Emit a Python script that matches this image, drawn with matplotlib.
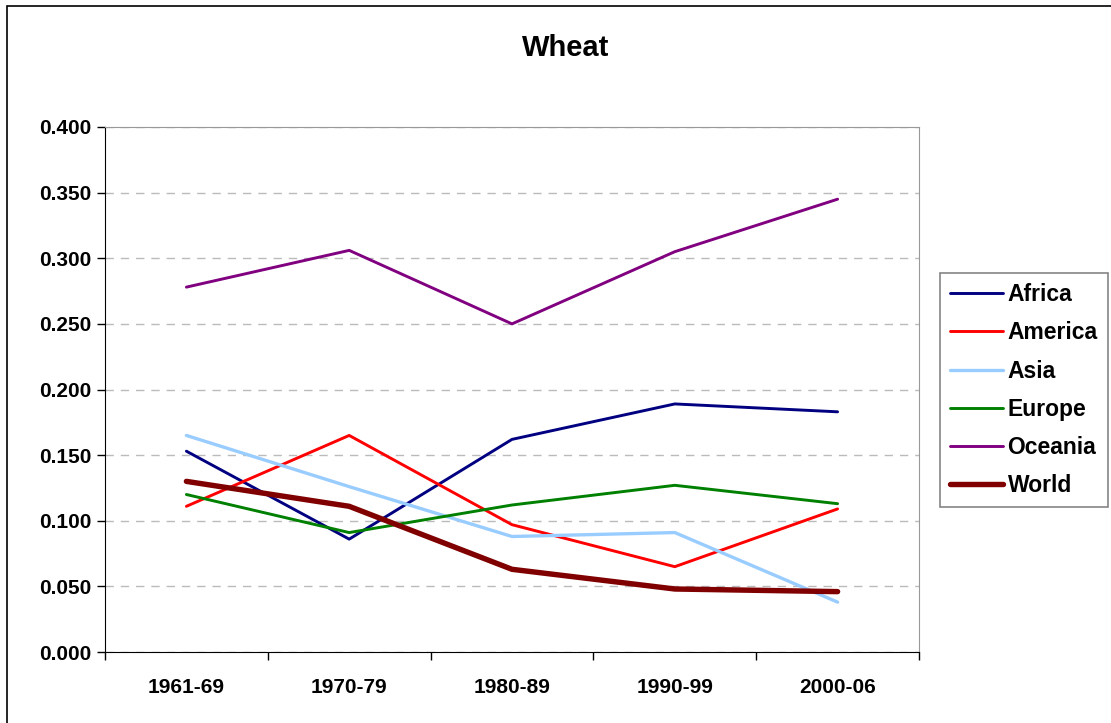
import matplotlib.pyplot as plt
from matplotlib.patches import Rectangle

plt.rcParams['font.family'] = ['Liberation Sans', 'DejaVu Sans']
plt.rcParams['font.weight'] = 'bold'

# Data
periods = ["1961-69", "1970-79", "1980-89", "1990-99", "2000-06"]
africa = [0.153, 0.086, 0.162, 0.189, 0.183]
america = [0.111, 0.165, 0.097, 0.065, 0.109]
asia = [0.165, 0.126, 0.088, 0.091, 0.038]
europe = [0.120, 0.091, 0.112, 0.127, 0.113]
oceania = [0.278, 0.306, 0.250, 0.305, 0.345]
world = [0.130, 0.111, 0.063, 0.048, 0.046]

series = [
    ("Africa", africa, "#000080", 2.1),
    ("America", america, "#FF0000", 2.1),
    ("Asia", asia, "#99CCFF", 2.4),
    ("Europe", europe, "#008000", 2.1),
    ("Oceania", oceania, "#800080", 2.1),
    ("World", world, "#800000", 3.9),
]

fig = plt.figure(figsize=(11.11, 7.23), dpi=100)
ax = fig.add_axes([105 / 1111, 1 - 652 / 723, 814 / 1111, 525 / 723])

x = list(range(len(periods)))
for name, vals, col, lw in series:
    ax.plot(x, vals, color=col, lw=lw, label=name, solid_capstyle="round")

ax.set_xlim(-0.5, len(periods) - 0.5)
ax.set_ylim(0, 0.4)
ax.set_yticks([i * 0.05 for i in range(9)])
ax.set_yticklabels([f"{i * 0.05:.3f}" for i in range(9)], fontsize=15, fontweight="bold")
ax.set_xticks(x)
ax.set_xticklabels(periods, fontsize=15, fontweight="bold")
ax.tick_params(axis="x", length=0, pad=19)
ax.set_xticks([i - 0.5 for i in range(len(periods) + 1)], minor=True)
ax.tick_params(axis="x", which="minor", length=6, width=1, direction="out")
ax.tick_params(axis="y", length=6, width=1, direction="out", pad=4)

ax.yaxis.grid(True, color="#BBBBBB", linestyle=(0, (6, 5)), linewidth=1)
ax.set_axisbelow(True)
ax.spines["top"].set_color("#999999")
ax.spines["right"].set_color("#999999")
ax.spines["left"].set_color("black")
ax.spines["bottom"].set_color("black")

fig.text(566 / 1111, 1 - 48 / 723, "Wheat", fontsize=21, fontweight="bold",
         ha="center", va="center")

leg = fig.legend(loc="upper left", bbox_to_anchor=(940 / 1111, 1 - 273 / 723),
                 frameon=True, fancybox=False, fontsize=16.5, handlelength=2.3,
                 labelspacing=0.66, borderaxespad=0, handletextpad=0.2,
                 borderpad=0.45)
leg.get_frame().set_edgecolor("#666666")
leg.get_frame().set_linewidth(1.2)

# outer chart border
fig.patches.append(Rectangle((7 / 1111, -0.1), 1.2, 1 - 6 / 723 + 0.1,
                             transform=fig.transFigure, fill=False,
                             edgecolor="black", linewidth=1.2))

fig.savefig("out.png", dpi=100)
